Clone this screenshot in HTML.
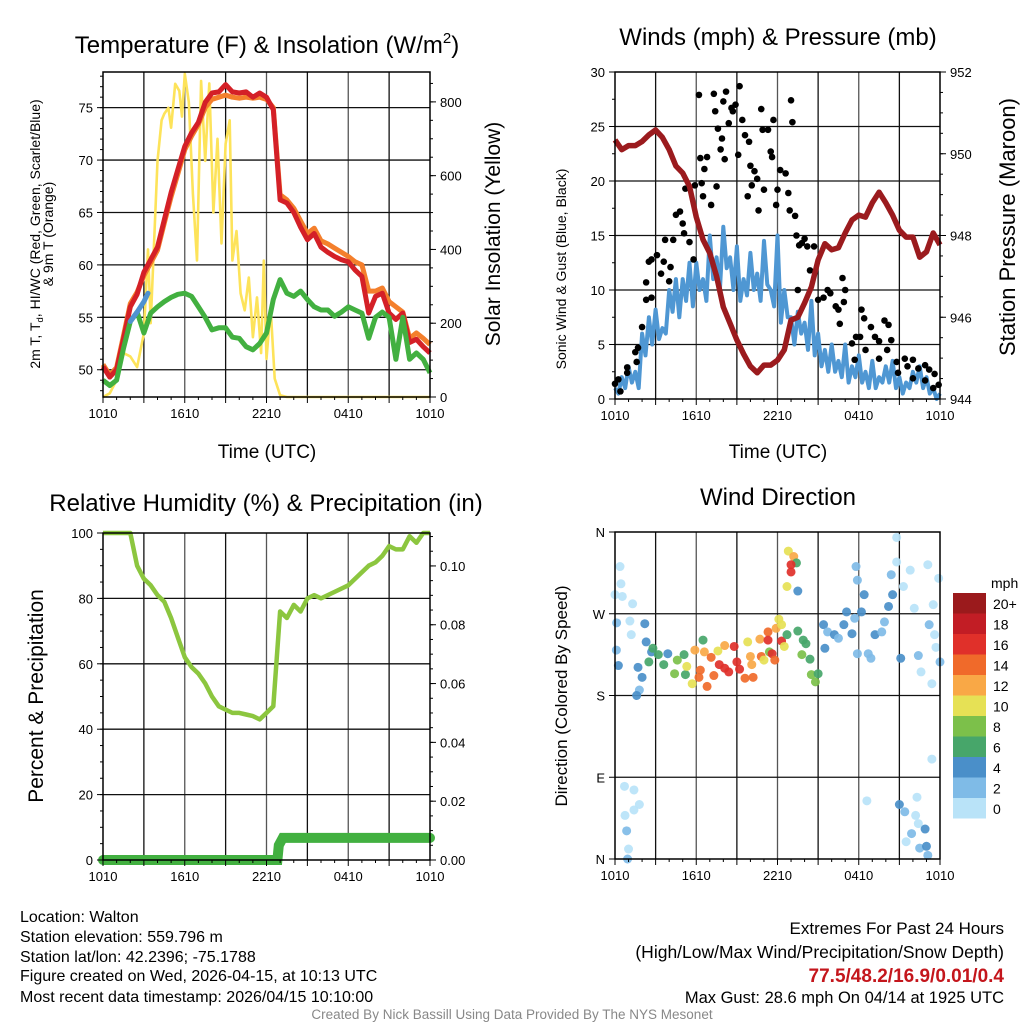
<!DOCTYPE html>
<html><head><meta charset="utf-8">
<style>
html,body{margin:0;padding:0;background:#fff;}
svg{display:block;font-family:"Liberation Sans",Arial,sans-serif;}
</style></head>
<body>
<svg id="root" width="1024" height="1024" viewBox="0 0 1024 1024" xmlns="http://www.w3.org/2000/svg">
  <!-- Panel titles -->
  <text x="267" y="53" font-size="24" text-anchor="middle">Temperature (F) &amp; Insolation (W/m<tspan dy="-10" font-size="15">2</tspan><tspan dy="10">)</tspan></text>
  <text x="778" y="45" font-size="24" text-anchor="middle">Winds (mph) &amp; Pressure (mb)</text>
  <text x="266" y="511" font-size="24" text-anchor="middle">Relative Humidity (%) &amp; Precipitation (in)</text>
  <text x="778" y="505" font-size="24" text-anchor="middle">Wind Direction</text>

  <!-- Axis titles -->
  <text x="267" y="458" font-size="19" text-anchor="middle">Time (UTC)</text>
  <text x="778" y="458" font-size="19" text-anchor="middle">Time (UTC)</text>
  <g transform="translate(40,234) rotate(-90)">
    <text x="0" y="0" font-size="14" text-anchor="middle">2m T, T<tspan dy="3" font-size="9.5">d</tspan><tspan dy="-3">, HI/WC (Red, Green, Scarlet/Blue)</tspan></text>
    <text x="0" y="13" font-size="14" text-anchor="middle">&amp; 9m T (Orange)</text>
  </g>
  <text transform="translate(500,234) rotate(-90)" font-size="21" text-anchor="middle">Solar Insolation (Yellow)</text>
  <text transform="translate(566,269) rotate(-90)" font-size="14" text-anchor="middle">Sonic Wind &amp; Gust (Blue, Black)</text>
  <text transform="translate(1015,227) rotate(-90)" font-size="22" text-anchor="middle">Station Pressure (Maroon)</text>
  <text transform="translate(43,696) rotate(-90)" font-size="21" text-anchor="middle">Percent &amp; Precipitation</text>
  <text transform="translate(567,696) rotate(-90)" font-size="17" text-anchor="middle">Direction (Colored By Speed)</text>

  <!-- Footer -->
  <g font-size="16">
    <text x="20" y="922">Location: Walton</text>
    <text x="20" y="942">Station elevation: 559.796 m</text>
    <text x="20" y="962">Station lat/lon: 42.2396; -75.1788</text>
    <text x="20" y="981">Figure created on Wed, 2026-04-15, at 10:13 UTC</text>
    <text x="20" y="1002">Most recent data timestamp: 2026/04/15 10:10:00</text>
  </g>
  <g font-size="17" text-anchor="end">
    <text x="1004" y="934">Extremes For Past 24 Hours</text>
    <text x="1004" y="958" font-size="17.5">(High/Low/Max Wind/Precipitation/Snow Depth)</text>
    <text x="1004" y="982" fill="#c4161c" font-weight="bold" font-size="19">77.5/48.2/16.9/0.01/0.4</text>
    <text x="1004" y="1003" font-size="16.5">Max Gust: 28.6 mph On 04/14 at 1925 UTC</text>
  </g>
  <text x="512" y="1019" font-size="13.5" fill="#888" text-anchor="middle">Created By Nick Bassill Using Data Provided By The NYS Mesonet</text>
</svg>
<script>
// ---------- DATA ----------
const timeLabels = ["1010","1610","2210","0410","1010"];
const timeLabelHours = [0,6,12,18,24];
// half-hourly series (t = index*0.5 h from 1010 UTC)
const tempRed = [50.3,49.3,50,52.9,56,57.2,59.3,60.5,61.7,64.3,66.9,69.1,71.3,72.6,73.6,75.5,76.4,76.5,77.2,76.5,76.4,76.5,76,76.4,76,74.8,66.2,65.9,65,63.6,62.4,63,61.7,61.2,60.8,60.5,60.3,59.5,58.9,55.4,57,57.3,55.4,54.8,55.4,52.6,52.9,52.2,51.6];
const tempOrange = [50.5,49.5,50.2,53.2,56.3,57.4,59,60.2,61.4,64,66.5,68.7,71,72.3,73.4,75,75.8,76,76.2,76,75.9,76,75.9,76,75.8,75,66.7,66.2,65.4,64.2,63,63.5,62.3,62,61.6,61.2,60.8,60.3,60,57.5,57.5,57.8,56.5,56,55.5,53,53.5,53,52.4];
const dewGreen = [49,48.5,49,52,54.6,55.5,53.5,55.4,56,56.5,56.9,57.2,57.3,57,56,55,53.8,54,54,53.1,53,52.2,51.9,52.5,53.5,56.7,58.6,57.3,57,57.5,56.7,56,55.7,55.7,55.1,55.5,56,55.7,55.4,53,55,55.5,55,51,55,51,51.6,51,49.7];
const hiwcT = [2,2.5,3,3.3];
const hiwcBlue = [54.6,55.5,56.5,57.3];
const solarT = [0,0.5,1,1.5,2,2.5,3,3.3,3.5,4,4.3,4.5,4.8,5,5.3,5.6,5.8,6,6.3,6.6,6.9,7.2,7.5,7.8,8.1,8.4,8.7,9,9.3,9.5,9.8,10.1,10.4,10.7,11,11.3,11.6,11.8,12,12.3,12.6,13,13.5,24];
const solarV = [0,10,46,119,110,81,173,400,200,640,750,768,784,730,849,830,760,876,800,551,370,857,640,850,500,700,416,686,750,370,450,281,235,324,162,270,119,370,103,243,50,5,0,0];
const pressure = [950.34,950.1,950.2,950.2,950.3,950.46,950.58,950.4,950.1,949.7,949.53,949.2,948.45,947.9,947.57,947,946.25,945.85,945.44,945.1,944.8,944.64,944.83,944.83,944.95,945.2,945.93,946,946.35,946.74,947.4,947.8,947.65,947.7,948.06,948.38,948.5,948.45,948.8,949.06,948.8,948.5,948.13,947.96,947.96,947.47,947.6,948.06,947.77];
// half-hourly wind and quarter-past lulls between them
const wind = [1,2,3,2.5,6,7.5,8.2,6.5,10,11,11,12.5,12.5,11,15,13,15.8,13,14,11,13.4,11.5,14.5,10,15,10,7.5,8,7,9,6,4.5,5,3.5,5,3,4,2.5,3.5,2,3,3.5,2,1.5,2.5,3,2,1,0.5];
const windLull = [0.5,1,1.5,1,4,5,5.5,6,8,7.5,9,8.5,10,9,11,10,12,10,9,9.5,10,9,10.5,8.5,7,7.5,5,6,4.5,4,3,2.5,2.5,2,1.5,2,1.5,1,1,1.5,1.5,1,0.5,1,1.5,1,0.5,0];
const gustT = [0,0.25,0.9,0.9,0.4,1.5,1.7,1.6,2,2.3,2.7,2.3,2.5,2.7,3.1,3.4,3.7,3.6,4,4.1,4.3,4.5,4.8,5,5.2,5.1,5.5,5.8,5.9,6.3,6.4,6.6,6.2,6.5,6.8,7.1,7.3,7.4,7.5,7.6,7.9,8,7.8,8.1,8.2,8.4,8.6,8.7,8.9,9.1,9.2,9.4,9.6,9.9,9.8,10,10.1,10.3,10.5,10.6,10.8,10.9,11,11.3,11.5,11.6,11.7,11.9,12,12.2,12.6,12.8,13,13.1,12.9,13.3,13.4,13.6,13.8,14,14.2,13.5,14.4,14.7,15,15.4,15.7,15.9,16.3,16.5,16.6,16.8,17,16.9,17.5,17.8,18.1,18.2,18.4,18.5,18.9,19.2,19.5,19.9,20.2,20.1,20.4,20.8,20.9,21.4,21.6,22,22.4,22.9,23.2,23.6,23.9,23.5,22.9,22,19.5,17.7];
const gustV = [1.4,1.8,2.9,2.4,0.7,4.3,4.7,3.4,6.6,9.1,9.3,10.7,12.6,12.8,13.2,11.5,14.6,12.6,10.8,12.1,14.6,16.9,17.2,16.1,19.3,15.2,14.4,12.8,19.6,22.1,19.8,21.1,27.9,18.6,22.2,17.8,28,26.4,19.5,24.8,23.9,27.3,22.9,22,28.2,25.3,26.7,26.4,27,22.4,28.7,25.6,24.2,23.6,18.6,21.4,19.6,20.9,20.2,17.3,26.6,24.7,19.2,24.7,22.7,22.2,25.6,17.8,19.2,21,20.7,18.9,27.4,25.4,17.3,16.8,15,14.1,14.3,14.7,14,10,11.8,14,9.1,9.3,10,9.7,8.5,8.2,6.9,11.1,10,8.9,5.1,5.7,5.7,8.2,7.4,4.5,6.6,5.7,5.3,7.2,6.8,4.5,5.4,3.4,2.4,3.7,3,3.6,2.8,3.1,2.7,2.3,1.3,1,1.7,1.9,3.7,3.6];
const rh = [100,100,100,100,100,90,86,84,81,79,74,68,62,59,57,54,50,47,46,45,45,44.5,44,43,45,47,76,74,78,76,80,81,80,81,82,83,84,86,88,90,91,93,96,95,95,99,97,100,100];
const precipT = [0,12.8,12.9,13.2,24];
const precipV = [0,0,0.005,0.0075,0.0075];
const dirT = [0.37,0.44,0,0.54,1.3,0.12,1.1,2.2,1.2,2.3,0.1,0.25,1.7,2,1.8,1.6,2.7,2.8,2.5,3.2,3.6,3.9,4.6,4.4,5.1,5.2,5.3,5.7,5.9,6.5,6.6,6.3,6.2,6.8,7.1,7.3,7.6,7.7,8.1,8.1,8.4,8.8,9,9.2,9.6,9.8,10,10.2,10.1,10.7,10.8,11,11.3,11.3,11.4,11.6,11.8,11.9,12.1,12.3,12.3,12.5,12.7,12.8,13.2,13.4,13,13,12.7,13.5,13.5,13.9,14.1,13.8,14.4,14.5,14.8,15,15.5,15.4,15.7,16.2,16.5,16.9,17.1,17.5,17.7,18.2,18.4,17.9,17.8,17.9,18.7,18.9,19.2,19.7,19.9,20.2,20.4,20.5,20.8,20.8,21.3,21.1,21.8,22.1,22.6,22.4,23.1,23.2,23.5,23.6,23.7,23.9,24,23.4,23.4,18.6,21,21.4,22.3,22.2,22.4,21.9,21.5,22.9,22.5,23,23.1,0.7,1.4,1.8,1.4,0.74,0.86,1,0.93];
const dirDeg = [322,303,291,289,281,260,262,259,247,239,230,213,211,200,186,180,228,232,217,225,214,226,219,204,225,203,212,193,230,241,228,208,200,190,222,202,229,214,235,210,206,234,217,209,199,239,223,200,214,242,223,219,250,241,228,226,219,254,264,258,240,234,247,339,333,326,324,316,300,295,251,241,237,225,220,203,195,204,232,258,250,247,243,258,272,248,265,272,291,307,322,226,226,221,247,250,261,278,313,291,354,327,300,221,318,276,206,224,324,258,280,247,233,309,217,193,110,64,60,52,68,48,39,28,19,33,12,14,4,80,76,60,54,48,31,11,0];
const dirSpeed = [1,1,1,1,1,3,1,4,1,4,3,4,4,4,3,4,4,6,6,6,7,4,8,9,7,7,10,10,12,7,12,14,14,14,14,14,10,16,12,16,16,16,16,16,14,10,12,14,12,12,14,10,14,16,8,16,14,12,10,10,16,10,7,10,12,7,16,16,10,4,6,6,6,8,6,8,8,6,4,4,3,4,3,4,4,4,3,4,4,3,3,2,2,3,4,2,3,4,3,4,1,1,1,4,1,1,1,3,1,3,1,1,1,1,2,1,1,1,4,3,1,1,1,3,1,4,3,4,3,1,1,1,1,1,3,1,3];
const speedLabels = ["20+","18","16","14","12","10","8","6","4","2","0"];
const speedColors = ["#b9e3f8","#7fbbe7","#4a8fc9","#47a66a","#7cc04a","#e6e155","#f9a846","#f06a2a","#e0302a","#c21d25","#9b1a1c"];

// ---------- DRAWING ----------
const NS = "http://www.w3.org/2000/svg";
const root = document.getElementById("root");
function mk(tag, attrs, parent) {
  const e = document.createElementNS(NS, tag);
  for (const k in attrs) e.setAttribute(k, attrs[k]);
  (parent || root).appendChild(e);
  return e;
}
function makePanel(x0, y0, x1, y1) {
  return {x0, y0, x1, y1, sx: t => x0 + t / 24 * (x1 - x0)};
}
function yScale(p, lo, hi) { return v => p.y1 - (v - lo) / (hi - lo) * (p.y1 - p.y0); }

const P1 = makePanel(103, 72, 430, 397);
const P2 = makePanel(615, 72, 940, 399);
const P3 = makePanel(103, 533, 430, 860);
const P4 = makePanel(615, 532, 940, 859);

function grid(p, name, hVals, ys) {
  const g = mk("g", {});
  
  
  for (let h = 3; h < 24; h += 3) {
    mk("line", {x1: p.sx(h), x2: p.sx(h), y1: p.y0, y2: p.y1, stroke: (h % 6 === 0) ? "#555" : "#111", "stroke-width": 1.3}, g);
  }
  hVals.forEach(v => mk("line", {x1: p.x0, x2: p.x1, y1: ys(v), y2: ys(v), stroke: "#111", "stroke-width": 1.3}, g));
}
function frame(p, name) {
  const r = mk("rect", {x: p.x0, y: p.y0, width: p.x1 - p.x0, height: p.y1 - p.y0, fill: "none", stroke: "#000", "stroke-width": 1.5});
  
  
}
function xAxis(p, name) {
  const g = mk("g", {"font-size": 13, "text-anchor": "middle"});
  
  
  for (let h = 0; h <= 24; h += 1) {
    const len = (h % 3 === 0) ? 6 : 3;
    mk("line", {x1: p.sx(h), x2: p.sx(h), y1: p.y1, y2: p.y1 + len, stroke: "#000", "stroke-width": 1}, g);
  }
  timeLabelHours.forEach((h, i) => {
    const t = mk("text", {x: p.sx(h), y: p.y1 + 21}, g);
    t.textContent = timeLabels[i];
  });
}
function yAxis(p, name, side, ys, vals, labels, minorStep, lo, hi) {
  const g = mk("g", {"font-size": 13, "text-anchor": side === "left" ? "end" : "start"});
  
  
  const x = side === "left" ? p.x0 : p.x1;
  const dir = side === "left" ? -1 : 1;
  if (minorStep) {
    for (let v = lo; v <= hi + 1e-9; v += minorStep) {
      const y = ys(v);
      if (y < p.y0 - 0.5 || y > p.y1 + 0.5) continue;
      mk("line", {x1: x, x2: x + dir * 3, y1: y, y2: y, stroke: "#000", "stroke-width": 1}, g);
    }
  }
  vals.forEach((v, i) => {
    const y = ys(v);
    mk("line", {x1: x, x2: x + dir * 6, y1: y, y2: y, stroke: "#000", "stroke-width": 1}, g);
    const t = mk("text", {x: x + dir * 10, y: y + 5}, g);
    t.textContent = labels[i];
  });
}
function halfHourPath(p, ys, arr) {
  return arr.map((v, i) => (i ? "L" : "M") + p.sx(i * 0.5).toFixed(1) + "," + ys(v).toFixed(1)).join("");
}
function pairPath(p, ys, ts, vs) {
  return ts.map((t, i) => (i ? "L" : "M") + p.sx(t).toFixed(1) + "," + ys(vs[i]).toFixed(1)).join("");
}

// ===== Panel 1 =====
const t1 = yScale(P1, 47.4, 78.4);
const s1 = yScale(P1, 0, 881);
grid(P1, "temperature", [50, 55, 60, 65, 70, 75], t1);
let e;
e = mk("path", {d: pairPath(P1, s1, solarT, solarV), fill: "none", stroke: "#fde35a", "stroke-width": 2.6, "stroke-linejoin": "round"});


e = mk("path", {d: halfHourPath(P1, t1, tempOrange), fill: "none", stroke: "#f47f2c", "stroke-width": 5, "stroke-linejoin": "round"});


e = mk("path", {d: halfHourPath(P1, t1, tempRed), fill: "none", stroke: "#d42027", "stroke-width": 5, "stroke-linejoin": "round"});


e = mk("path", {d: halfHourPath(P1, t1, dewGreen), fill: "none", stroke: "#42b040", "stroke-width": 5, "stroke-linejoin": "round"});


e = mk("path", {d: pairPath(P1, t1, hiwcT, hiwcBlue), fill: "none", stroke: "#4f92d0", "stroke-width": 5, "stroke-linecap": "round"});


frame(P1, "temperature");
xAxis(P1, "temperature");
yAxis(P1, "temperature-y-axis", "left", t1, [50, 55, 60, 65, 70, 75], ["50", "55", "60", "65", "70", "75"], 1, 48, 78);
yAxis(P1, "insolation-y-axis", "right", s1, [0, 200, 400, 600, 800], ["0", "200", "400", "600", "800"], 50, 0, 850);

// ===== Panel 2 =====
const w2 = yScale(P2, 0, 30);
const p2 = yScale(P2, 944, 952);
grid(P2, "winds", [5, 10, 15, 20, 25], w2);
let wd = "";
wind.forEach((v, i) => {
  wd += (i ? "L" : "M") + P2.sx(i * 0.5).toFixed(1) + "," + w2(v).toFixed(1);
  if (i < windLull.length) wd += "L" + P2.sx(i * 0.5 + 0.25).toFixed(1) + "," + w2(windLull[i]).toFixed(1);
});
e = mk("path", {d: wd, fill: "none", stroke: "#4f97d3", "stroke-width": 4, "stroke-linejoin": "round"});


const gg = mk("g", {fill: "#000"});


gustT.forEach((t, i) => {
  const c = mk("circle", {cx: P2.sx(t), cy: w2(gustV[i]), r: 3.3}, gg);
  
  
});
e = mk("path", {d: halfHourPath(P2, p2, pressure), fill: "none", stroke: "#9b1b1e", "stroke-width": 5.5, "stroke-linejoin": "round"});


frame(P2, "winds");
xAxis(P2, "winds");
yAxis(P2, "wind-y-axis", "left", w2, [0, 5, 10, 15, 20, 25, 30], ["0", "5", "10", "15", "20", "25", "30"], 2.5, 0, 30);
yAxis(P2, "pressure-y-axis", "right", p2, [944, 946, 948, 950, 952], ["944", "946", "948", "950", "952"], 0.5, 944, 952);

// ===== Panel 3 =====
const r3 = yScale(P3, 0, 100);
const q3 = yScale(P3, 0, 0.1112);
grid(P3, "humidity", [20, 40, 60, 80], r3);
e = mk("path", {d: halfHourPath(P3, r3, rh), fill: "none", stroke: "#8cc63f", "stroke-width": 4.5, "stroke-linejoin": "round"});


e = mk("path", {d: pairPath(P3, q3, precipT, precipV), fill: "none", stroke: "#42b040", "stroke-width": 10, "stroke-linecap": "round"});


frame(P3, "humidity");
xAxis(P3, "humidity");
yAxis(P3, "humidity-y-axis", "left", r3, [0, 20, 40, 60, 80, 100], ["0", "20", "40", "60", "80", "100"], 5, 0, 100);
yAxis(P3, "precipitation-y-axis", "right", q3, [0, 0.02, 0.04, 0.06, 0.08, 0.1], ["0.00", "0.02", "0.04", "0.06", "0.08", "0.10"], 0.005, 0, 0.11);

// ===== Panel 4 =====
const d4 = yScale(P4, 0, 360);
grid(P4, "direction", [90, 180, 270], d4);
const dg = mk("g", {});


dirT.forEach((t, i) => {
  const idx = Math.min(10, Math.floor(dirSpeed[i] / 2));
  const c = mk("circle", {cx: P4.sx(t), cy: d4(dirDeg[i]), r: 4.5, fill: speedColors[idx], "fill-opacity": 0.92}, dg);
  
  
});
frame(P4, "direction");
xAxis(P4, "direction");
yAxis(P4, "direction-y-axis", "left", d4, [0, 90, 180, 270, 360], ["N", "E", "S", "W", "N"], 0, 0, 360);

// Color bar
const cb = mk("g", {"font-size": 14});


const cbt = mk("text", {x: 991, y: 588}, cb);
cbt.textContent = "mph";
speedLabels.forEach((lab, i) => {
  const y = 593 + i * 20.5;
  const r = mk("rect", {x: 953, y: y, width: 33, height: 20.5, fill: speedColors[10 - i]}, cb);
  
  
  const tx = mk("text", {x: 993, y: y + 16}, cb);
  tx.textContent = lab;
});
</script>
</body></html>
